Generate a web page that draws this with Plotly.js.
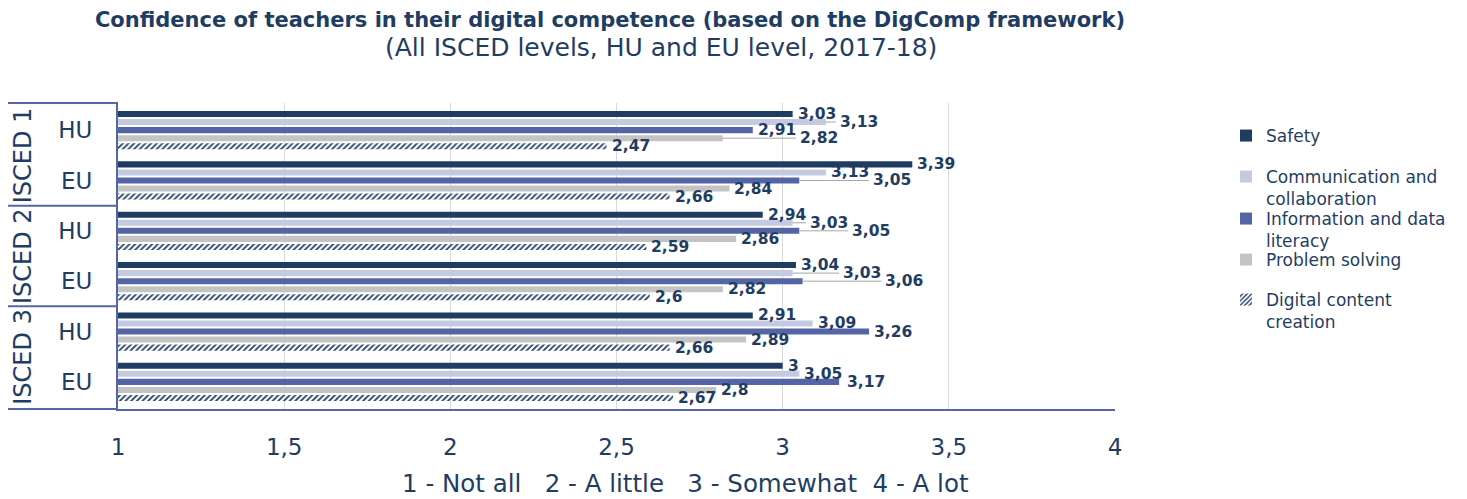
<!DOCTYPE html>
<html>
<head>
<meta charset="utf-8">
<script src="https://cdn.plot.ly/plotly-3.0.1.min.js"></script>
<style>html,body{margin:0;padding:0;background:#fff;}#chart{width:1467px;height:499px;}</style>
</head>
<body>
<div id="chart"></div>
<script>
// ---- data ----
const levels = ['ISCED 1', 'ISCED 1', 'ISCED 2', 'ISCED 2', 'ISCED 3', 'ISCED 3'];
const countries = ['HU', 'EU', 'HU', 'EU', 'HU', 'EU'];
const seriesNames = ['Safety', 'Communication and<br>collaboration', 'Information and data<br>literacy', 'Problem solving', 'Digital content<br>creation'];
const safety        = [3.03, 3.39, 2.94, 3.04, 2.91, 3.00];
const communication = [3.13, 3.13, 3.03, 3.03, 3.09, 3.05];
const information   = [2.91, 3.05, 3.05, 3.06, 3.26, 3.17];
const problem       = [2.82, 2.84, 2.86, 2.82, 2.89, 2.80];
const digital       = [2.47, 2.66, 2.59, 2.60, 2.66, 2.67];
const xTicks = [1, 1.5, 2, 2.5, 3, 3.5, 4];
const titleLine1 = 'Confidence of teachers in their digital competence (based on the DigComp framework)';
const titleLine2 = '(All ISCED levels, HU and EU level, 2017-18)';
const xTitle = '1 - Not all   2 - A little   3 - Somewhat  4 - A lot';

// ---- styling ----
const NAVY = '#1f3d63';
const LINE = '#5565a6';
const FONTNAME = 'DejaVu Sans';
const FONT = 'DejaVu Sans, Verdana, sans-serif';
const W = 1467, H = 499;
const L = 118, R = 1115, T = 103, B = 409;
const pw = R - L, ph = B - T;
const px2x = p => (p - L) / pw;
const py2y = p => (B - p) / ph;
const XMIN = 1, XMAX = 4;
const pxPerUnit = pw / (XMAX - XMIN);
const BARGAP = 0.2, GROUPGAP = 0.25;
const LABEL_SIZE = 15.5;

const cats = levels.map((l, i) => l + ' ' + countries[i]);
const allSeries = [safety, communication, information, problem, digital];
const fmt = v => String(v).replace('.', ',');

const styles = [
  {color: NAVY},
  {color: '#c5cae3'},
  {color: '#5564a5'},
  {color: '#c4c4c4'},
  {color: '#ffffff', pattern: {shape: '/', fgcolor: NAVY, bgcolor: '#ffffff', size: 4, solidity: 0.45}}
];
const legendIds = ['legend', 'legend2', 'legend3', 'legend4', 'legend5'];
const legendLine = [134, 175, 217, 258, 298]; // first-line centres (px)

const traces = allSeries.map((vals, k) => ({
  type: 'bar',
  orientation: 'h',
  name: seriesNames[k],
  y: cats,
  x: vals,
  showlegend: true,
  marker: Object.assign({line: {width: 0}}, styles[k]),
  legend: legendIds[k],
  hoverinfo: 'x+y+name'
}));

// ---- value labels (Excel-like: push right when they would collide) ----
const ctx = document.createElement('canvas').getContext('2d');
ctx.font = 'bold ' + LABEL_SIZE + 'px "' + FONTNAME + '"';
const nS = allSeries.length;
const slot = (1 - BARGAP) / nS;
const catPx = ph / cats.length;
const annotations = [];
const shapes = [];
cats.forEach((c, i) => {
  const placed = [];
  allSeries.forEach((vals, k) => {
    const txt = fmt(vals[i]);
    const w = ctx.measureText(txt).width;
    const off = (k - (nS - 1) / 2) * slot;
    const yc = off * catPx;
    const base = (vals[i] - XMIN) * pxPerUnit;
    let x0 = base + 3;
    let moved = true;
    while (moved) {
      moved = false;
      for (const p of placed) {
        if (Math.abs(p.yc - yc) < 13 && x0 < p.x1 + 2 && x0 + w > p.x0 - 2) {
          x0 = p.x1 + 4; moved = true;
        }
      }
    }
    placed.push({x0: x0, x1: x0 + w, yc: yc});
    const shift = x0 - base;
    annotations.push({xref: 'x', yref: 'y', x: vals[i], y: i + off, xanchor: 'left', yanchor: 'middle',
      xshift: shift, text: '<b>' + txt + '</b>', showarrow: false,
      font: {family: FONT, size: LABEL_SIZE, color: NAVY}});
    if (shift > 12) {
      shapes.push({type: 'line', xref: 'x', yref: 'y', x0: vals[i], x1: vals[i] + (shift - 2) / pxPerUnit,
        y0: i + off, y1: i + off, line: {color: '#a6a6a6', width: 1}});
    }
  });
});

// ISCED group labels
const uniqLevels = [...new Set(levels)];
uniqLevels.forEach(lv => {
  const idx = levels.map((l, i) => l === lv ? i : -1).filter(i => i >= 0);
  const mid = idx.reduce((a, b) => a + b, 0) / idx.length;
  annotations.push({xref: 'paper', yref: 'y', x: px2x(23), y: mid, text: lv, textangle: -90,
    showarrow: false, font: {family: FONT, size: 24, color: NAVY}, xanchor: 'center', yanchor: 'middle'});
});
annotations.push({xref: 'paper', yref: 'paper', x: px2x(661), y: py2y(48), text: titleLine2,
  showarrow: false, font: {family: FONT, size: 25, color: NAVY}, xanchor: 'center', yanchor: 'middle'});
annotations.push({xref: 'paper', yref: 'paper', x: px2x(685), y: py2y(483), text: xTitle.replace(/ /g, '\u00a0'),
  showarrow: false, font: {family: FONT, size: 24.5, color: NAVY}, xanchor: 'center', yanchor: 'middle'});

const boxLeft = px2x(8);
shapes.push({type: 'line', xref: 'paper', yref: 'paper', x0: boxLeft, x1: 0, y0: 1, y1: 1, line: {color: LINE, width: 2}});
shapes.push({type: 'line', xref: 'paper', yref: 'paper', x0: boxLeft, x1: 0, y0: 0, y1: 0, line: {color: LINE, width: 2}});
for (let i = 1; i < levels.length; i++) {
  if (levels[i] !== levels[i - 1]) {
    shapes.push({type: 'line', xref: 'paper', yref: 'y', x0: boxLeft, x1: 0, y0: i - 0.5, y1: i - 0.5, line: {color: LINE, width: 2}});
  }
}

const layout = {
  width: W, height: H,
  margin: {l: L, r: W - R, t: T, b: H - B, pad: 0, autoexpand: false},
  paper_bgcolor: '#ffffff', plot_bgcolor: '#ffffff',
  separators: ', ',
  showlegend: true,
  font: {family: FONT, color: NAVY},
  barmode: 'group',
  bargap: BARGAP,
  bargroupgap: GROUPGAP,
  title: {text: '<b>' + titleLine1 + '</b>', xref: 'container', yref: 'container',
    x: 610 / W, y: 1 - 20 / H, xanchor: 'center', yanchor: 'middle',
    font: {family: FONT, size: 21, color: NAVY}},
  xaxis: {range: [XMIN, XMAX], tickvals: xTicks, ticktext: xTicks.map(fmt), showgrid: true, gridcolor: '#d9d9d9', gridwidth: 1,
    zeroline: false, showline: true, linecolor: LINE, linewidth: 2,
    ticks: 'outside', ticklen: 16, tickcolor: 'rgba(0,0,0,0)',
    tickfont: {family: FONT, size: 23, color: NAVY}},
  yaxis: {type: 'category', autorange: 'reversed', tickvals: cats, ticktext: countries,
    showgrid: false, zeroline: false, showline: true, linecolor: LINE, linewidth: 2,
    ticks: 'outside', ticklen: 19, tickcolor: 'rgba(0,0,0,0)',
    tickfont: {family: FONT, size: 23, color: NAVY}},
  annotations: annotations,
  shapes: shapes
};
legendIds.forEach((id, k) => {
  layout[id] = {x: px2x(1226), xanchor: 'left', y: py2y(legendLine[k] - 16), yanchor: 'top',
    valign: 'top', bgcolor: 'rgba(0,0,0,0)', borderwidth: 0,
    font: {family: FONT, size: 17, color: NAVY}};
});

Plotly.newPlot('chart', traces, layout, {displayModeBar: false, staticPlot: true});
</script>
</body>
</html>
